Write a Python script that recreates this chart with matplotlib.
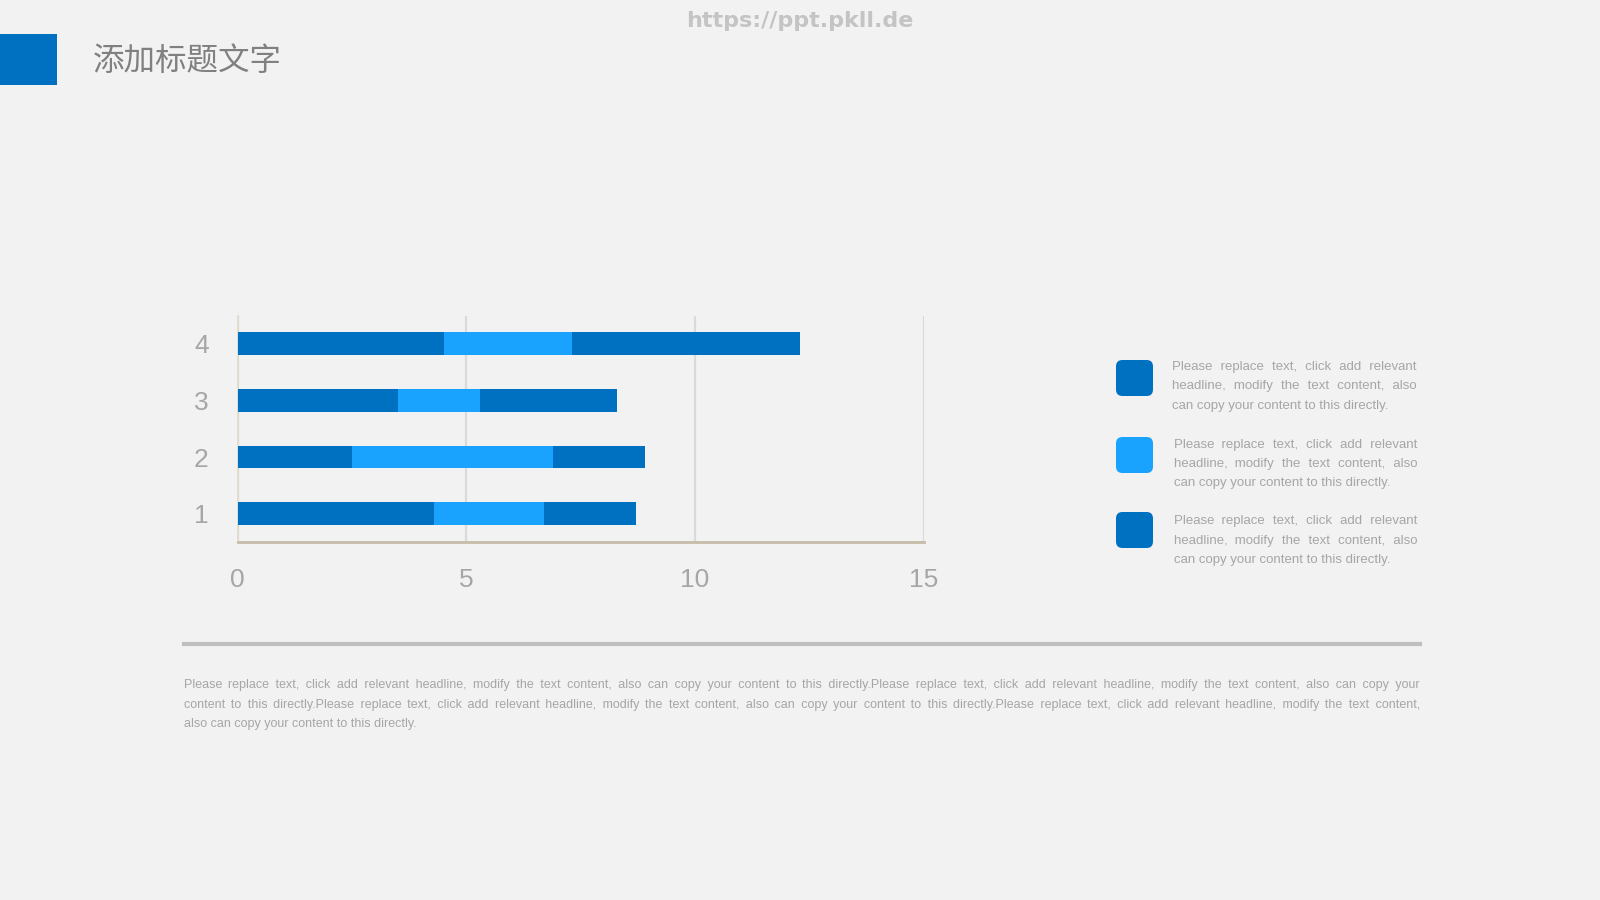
import matplotlib
matplotlib.use("Agg")
import matplotlib.pyplot as plt
from matplotlib.patches import Rectangle, FancyBboxPatch
from matplotlib.lines import Line2D

# ---------------- data ----------------
categories = ["1", "2", "3", "4"]
series1 = [4.3, 2.5, 3.5, 4.5]
series2 = [2.4, 4.4, 1.8, 2.8]
series3 = [2.0, 2.0, 3.0, 5.0]
xticks = [0, 5, 10, 15]
title_text = "添加标题文字"
watermark = "https://ppt.pkll.de"
legend_lines = [
    "Please replace text, click add relevant",
    "headline, modify the text content, also",
    "can copy your content to this directly.",
]
body_lines = [
    "Please replace text, click add relevant headline, modify the text content, also can copy your content to this directly.Please replace text, click add relevant headline, modify the text content, also can copy your",
    "content to this directly.Please replace text, click add relevant headline, modify the text content, also can copy your content to this directly.Please replace text, click add relevant headline, modify the text content,",
    "also can copy your content to this directly.",
]

DARK = "#0070C0"
LIGHT = "#19A3FF"
BG = "#F2F2F2"
GRAYTXT = "#A6A6A6"
NARROW = ["Liberation Sans Narrow", "Liberation Sans", "DejaVu Sans"]
REG = ["Liberation Sans", "DejaVu Sans"]

W, H = 1600, 900
fig = plt.figure(figsize=(16, 9), dpi=100, facecolor=BG)


def fx(px):
    return px / W


def fy(py):
    return 1 - py / H


# ---------------- header ----------------
fig.patches.append(Rectangle((0, fy(84.7)), fx(57), (84.7 - 33.7) / H,
                             transform=fig.transFigure, facecolor=DARK,
                             edgecolor="none"))
fig.text(fx(93), fy(61), title_text, fontsize=22.7, color="#808080",
         family=["Noto Sans CJK SC", "DejaVu Sans"], va="center", ha="left")
fig.text(fx(800), fy(21), watermark, fontsize=16, color="#C4C4C4",
         fontweight="bold", family=["DejaVu Sans"], va="center", ha="center")

# ---------------- chart ----------------
ax = fig.add_axes([fx(237.8), fy(542), fx(923.5) - fx(237.8), (542 - 315.5) / H])
ax.set_facecolor("none")
ypos = list(range(1, len(categories) + 1))
left2 = [a for a in series1]
left3 = [a + b for a, b in zip(series1, series2)]
bh = 0.40
ax.barh(ypos, series1, height=bh, color=DARK, zorder=3)
ax.barh(ypos, series2, left=left2, height=bh, color=LIGHT, zorder=3)
ax.barh(ypos, series3, left=left3, height=bh, color=DARK, zorder=3)
ax.set_xlim(0, 15)
ax.set_ylim(0.5, len(categories) + 0.5)
ax.set_xticks(xticks)
ax.set_xticklabels([str(t) for t in xticks])
ax.set_yticks(ypos)
ax.set_yticklabels(categories)
for lab in ax.get_xticklabels() + ax.get_yticklabels():
    lab.set_family(NARROW)
    lab.set_fontsize(19)
    lab.set_color(GRAYTXT)
ax.tick_params(axis="both", length=0)
ax.tick_params(axis="x", pad=19)
ax.tick_params(axis="y", pad=21)
ax.xaxis.grid(True, color="#DADADA", linewidth=1.6, zorder=1)
ax.yaxis.grid(False)
for s in ["top", "right"]:
    ax.spines[s].set_visible(False)
ax.spines["left"].set_color("#E0DBCF")
ax.spines["left"].set_linewidth(1.2)
ax.spines["bottom"].set_color("#C7BCA8")
ax.spines["bottom"].set_linewidth(2)
ax.spines["bottom"].set_zorder(4)

# ---------------- legend squares ----------------
sq_tops = [360, 437, 512]
sq_colors = [DARK, LIGHT, DARK]
for top, c in zip(sq_tops, sq_colors):
    fig.patches.append(FancyBboxPatch((fx(1116), fy(top + 36)), fx(37), 36 / H,
                                      boxstyle="round,pad=0,rounding_size=0.004",
                                      transform=fig.transFigure, facecolor=c,
                                      edgecolor="none", mutation_aspect=16 / 9))

# ---------------- justified text helper (one Text per line) ----------------
renderer = fig.canvas.get_renderer()
HAIR = "\u200a"


def text_width(s, fontsize, family):
    t = fig.text(0, 0, s, fontsize=fontsize, family=family)
    w = t.get_window_extent(renderer).width
    t.remove()
    return w


def build(words, n_extra):
    g = len(words) - 1
    out = words[0]
    for i in range(g):
        k = (i + 1) * n_extra // g - i * n_extra // g
        out += " " + HAIR * k + words[i + 1]
    return out


def justified(lines, x0, x1, ys, fontsize, color, family):
    base_off = fontsize * 100 / 72 * 0.36
    hw = (text_width("a" + HAIR * 40 + "a", fontsize, family)
          - text_width("aa", fontsize, family)) / 40
    for i, (line, y) in enumerate(zip(lines, ys)):
        words = line.split(" ")
        s = line
        last = i == len(lines) - 1
        if not last and len(words) > 1 and hw > 0:
            target = x1 - x0
            n = max(0, int(round((target - text_width(line, fontsize, family)) / hw)))
            for _ in range(4):
                s = build(words, n)
                diff = target - text_width(s, fontsize, family)
                dn = int(round(diff / hw))
                if dn == 0:
                    break
                n = max(0, n + dn)
            s = build(words, n)
        fig.text(fx(x0), fy(round(y + base_off)), s, fontsize=fontsize,
                 color=color, family=family, va="baseline", ha="left")


legend_x0 = [1172, 1174, 1174]
legend_ys = [[365.3, 384.7, 404.1], [442.9, 462.2, 481.6], [519.4, 538.8, 558.2]]
for x0, ys in zip(legend_x0, legend_ys):
    justified(legend_lines, x0, 1417, ys, 9.5, GRAYTXT, REG)

# ---------------- bottom rule and paragraph ----------------
fig.lines.append(Line2D([fx(184), fx(1420)], [fy(644), fy(644)],
                        transform=fig.transFigure, color="#BFBFBF", linewidth=3))
justified(body_lines, 184, 1420, [683.7, 703.1, 722.5], 9, GRAYTXT, REG)

fig.savefig("out.png", dpi=100, facecolor=BG)
